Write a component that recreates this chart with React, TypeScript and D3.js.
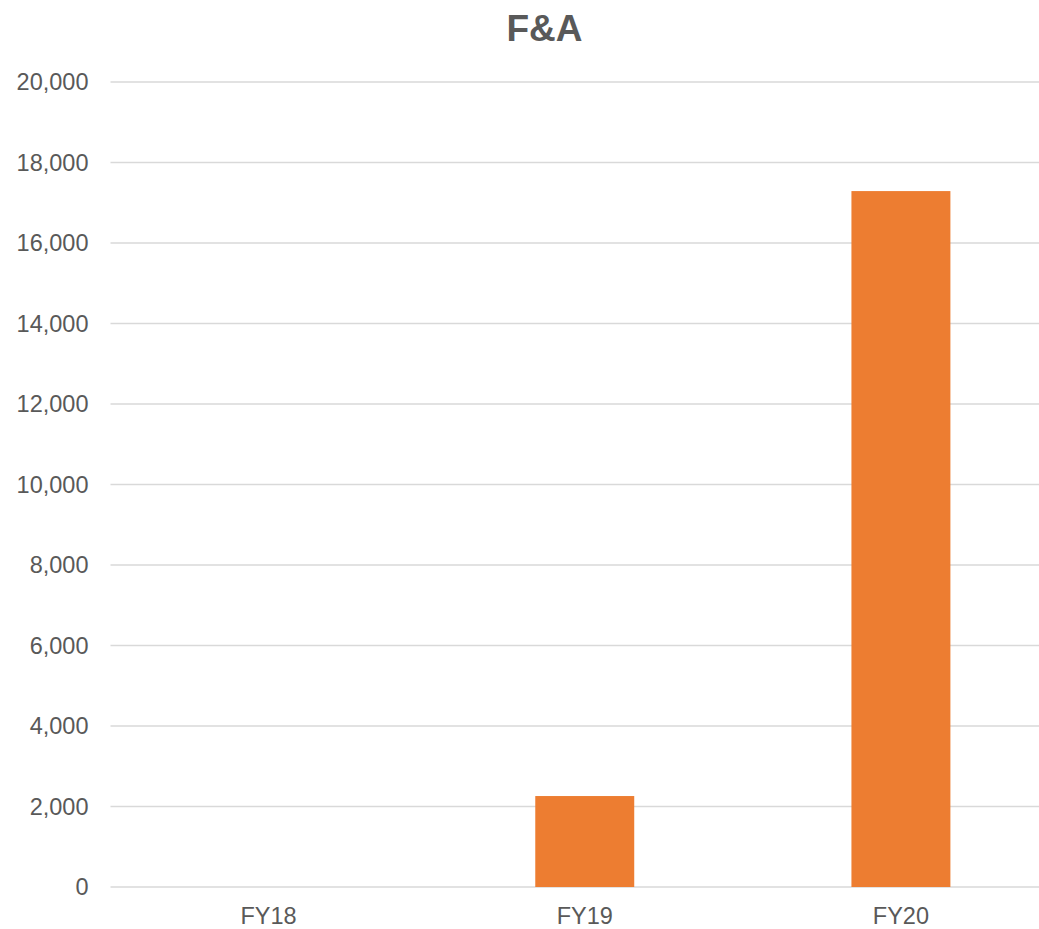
import React from 'react';
import * as d3 from 'd3';

// chart values
const categories = ['FY18', 'FY19', 'FY20'];
const values = [0, 2260, 17290];
const yTicks = [0, 2000, 4000, 6000, 8000, 10000, 12000, 14000, 16000, 18000, 20000];
const title = 'F&A';

const App = () => {
  const width = 1039;
  const height = 929;
  const margin = { top: 82, right: -20, bottom: 42, left: 110.5 };

  const x = d3.scaleBand<string>()
    .domain(categories)
    .range([margin.left, width - margin.right])
    .paddingInner(0.687)
    .paddingOuter(0.3435);

  const y = d3.scaleLinear()
    .domain([0, 20000])
    .range([height - margin.bottom, margin.top]);

  const fmt = d3.format(',');
  const font = '"Liberation Sans", Arial, sans-serif';

  return (
    <svg
      width={width}
      height={height}
      style={{ position: 'absolute', left: 0, top: 0, display: 'block' }}
      fontFamily={font}
    >
      <rect width={width} height={height} fill="#ffffff" />
      <text x={544.5} y={41} textAnchor="middle" fontSize={37} fontWeight="bold" fill="#595959">
        {title}
      </text>

      {/* grid lines + y labels */}
      {yTicks.map(t => (
        <g key={t}>
          <line x1={margin.left} x2={width} y1={y(t)} y2={y(t)} stroke="#d9d9d9" strokeWidth={1.5} />
          <text x={88.5} y={y(t)} dy="0.36em" textAnchor="end" fontSize={23.5} fill="#595959">
            {fmt(t)}
          </text>
        </g>
      ))}

      {/* bars */}
      {categories.map((c, i) => (
        <rect
          key={c}
          x={x(c)}
          width={x.bandwidth()}
          y={y(values[i])}
          height={y(0) - y(values[i])}
          fill="#ED7D31"
        />
      ))}

      {/* x labels */}
      {categories.map(c => (
        <text key={c} x={(x(c) ?? 0) + x.bandwidth() / 2} y={924} textAnchor="middle" fontSize={23.5} fill="#595959">
          {c}
        </text>
      ))}
    </svg>
  );
};

export default App;
